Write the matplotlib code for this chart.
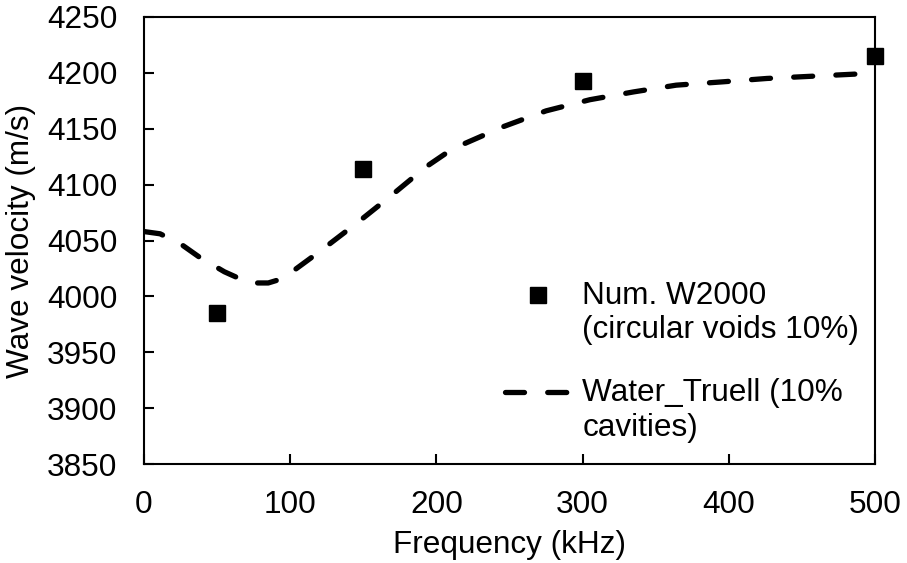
import numpy as np
import matplotlib.pyplot as plt
from matplotlib.legend_handler import HandlerLine2D

plt.rcParams['font.family'] = ['Liberation Sans', 'DejaVu Sans']

# numerical results (squares)
num_freq = [50, 150, 300, 500]
num_vel = [3985, 4114, 4193, 4215]

# Truell model curve (dashed)
truell_freq = [0, 11, 25, 38, 55, 72, 85, 95, 120, 146, 168, 193, 211, 246, 275, 305, 335, 364, 396, 426, 457, 488, 500]
truell_vel = [4058, 4056, 4047, 4035, 4022, 4012, 4012, 4016, 4040, 4066, 4089, 4116, 4132, 4152, 4166, 4176, 4183, 4189, 4192, 4195, 4197, 4199, 4200]

xticks = [0, 100, 200, 300, 400, 500]
yticks = [3850, 3900, 3950, 4000, 4050, 4100, 4150, 4200, 4250]

FS = 22.7


# legend handle lined up with the first line of a two-line label
class TopLineHandler(HandlerLine2D):
    def create_artists(self, legend, orig_handle, xdescent, ydescent, width, height, fontsize, trans):
        arts = super().create_artists(legend, orig_handle, xdescent, ydescent, width, height, fontsize, trans)
        for a in arts:
            a.set_ydata(np.asarray(a.get_ydata()) + 0.6 * fontsize)
        return arts


fig = plt.figure(figsize=(9.07, 5.63), dpi=100)
ax = fig.add_axes([144/907, 99/563, 731/907, 447/563])

pts, = ax.plot(num_freq, num_vel, 's', color='black', markersize=11, clip_on=False, zorder=5,
               label='Num. W2000\n(circular voids 10%)')
crv, = ax.plot(truell_freq, truell_vel, color='black', lw=3.8, dashes=(3.6, 4.4),
               dash_capstyle='round', label='Water_Truell (10%\ncavities)')

ax.set_xlim(0, 500)
ax.set_ylim(3850, 4250)
ax.set_xticks(xticks)
ax.set_yticks(yticks)
ax.tick_params(direction='in', length=7.5, width=1.5, labelsize=FS, pad=19)
for s in ax.spines.values():
    s.set_linewidth(1.5)

ax.set_xlabel('Frequency (kHz)', fontsize=FS, labelpad=7)
ax.set_ylabel('Wave velocity (m/s)', fontsize=FS, labelpad=8)

ax.legend(loc='upper left', bbox_to_anchor=(0.494, 0.41), frameon=False, fontsize=FS,
          handlelength=2.1, handletextpad=0.35, labelspacing=1.05, borderpad=0,
          borderaxespad=0, handler_map={pts: TopLineHandler(), crv: TopLineHandler()})

fig.savefig('out.png', dpi=100)
